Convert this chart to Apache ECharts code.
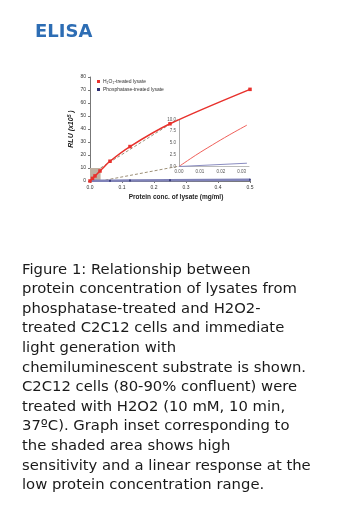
<!DOCTYPE html>
<html>
<head>
<meta charset="utf-8">
<script src="https://cdn.jsdelivr.net/npm/echarts@6/dist/echarts.min.js"></script>
<style>
html,body{margin:0;padding:0;background:#fff;}
#c{width:360px;height:530px;}
</style>
</head>
<body>
<div id="c"></div>
<script>
// ---- data ----
const h2o2X = [0, 0.0078, 0.0156, 0.03125, 0.0625, 0.125, 0.25, 0.5];
const h2o2Y = [0, 2.0, 3.9, 7.7, 15.2, 26.5, 44.0, 70.5];
const phosX = [0, 0.0156, 0.03125, 0.0625, 0.125, 0.25, 0.5];
const phosY = [0, 0.1, 0.15, 0.25, 0.4, 0.6, 0.9];
const phosMarkedX = [0.0625, 0.125, 0.25, 0.5];
const phosMarkedY = [0.25, 0.4, 0.6, 0.9];
// inset (zoom of shaded area)
const insetRedX = [0, 0.008, 0.016, 0.024, 0.0325];
const insetRedY = [0, 2.4, 4.6, 6.7, 8.8];
const insetBlueX = [0, 0.0325];
const insetBlueY = [0, 0.7];
// shaded region (main chart data units)
const shadeX = [0, 0.033];
const shadeY = [0, 10];
// connectors from shaded region to inset corners (main chart data units)
const connUpper = [[0.033, 10], [0.273, 47.3]];
const connLower = [[0.033, 0], [0.273, 11.2]];
const mainXTicks = ['0.0','0.1','0.2','0.3','0.4','0.5'];
const mainYTicks = ['0','10','20','30','40','50','60','70','80'];
const insetXTicks = ['0.00','0.01','0.02','0.03'];
const insetYTicks = ['0.0','2.5','5.0','7.5','10.0'];
const legendNames = ['H\u2082O\u2082-treated lysate', 'Phosphatase-treated lysate'];
const captionLines = [
  'Figure 1: Relationship between',
  'protein concentration of lysates from',
  'phosphatase-treated and H2O2-',
  'treated C2C12 cells and immediate',
  'light generation with',
  'chemiluminescent substrate is shown.',
  'C2C12 cells (80-90% confluent) were',
  'treated with H2O2 (10 mM, 10 min,',
  '37\u00BAC). Graph inset corresponding to',
  'the shaded area shows high',
  'sensitivity and a linear response at the',
  'low protein concentration range.'
];

const zip = (xs, ys) => xs.map((x, i) => [x, ys[i]]);
const RED = '#e8312c';
const BLUE = '#7f82b8';
const NAVY = '#2e2f70';
const DASH = '#9d9078';

const chart = echarts.init(document.getElementById('c'), null, {renderer: 'canvas'});
const smallLbl = {fontSize: 5, color: '#333', fontFamily: 'Liberation Sans'};
chart.setOption({
  animation: false,
  backgroundColor: '#ffffff',
  title: {
    text: 'ELISA', left: 35, top: 23, padding: 0,
    textStyle: {fontFamily: 'DejaVu Sans', fontWeight: 'bold', fontSize: 18, color: '#2d6db4'}
  },
  legend: {
    data: legendNames, orient: 'vertical', left: 97, top: 79, padding: 0,
    itemWidth: 3, itemHeight: 3, itemGap: 3, icon: 'rect',
    textStyle: {fontSize: 5, color: '#333', fontFamily: 'Liberation Sans', padding: [0, 0, 0, -2]}
  },
  grid: [
    {left: 90, top: 77, width: 160, height: 104},
    {left: 179, top: 119.5, width: 70, height: 47}
  ],
  xAxis: [
    {
      gridIndex: 0, type: 'value', min: 0, max: 0.5, interval: 0.1,
      name: 'Protein conc. of lysate (mg/ml)', nameLocation: 'middle', nameGap: 13,
      nameTextStyle: {fontSize: 6.5, fontWeight: 'bold', color: '#222', fontFamily: 'Liberation Sans', padding: [0, 0, 0, 12]},
      axisLine: {lineStyle: {color: '#777', width: 1}},
      axisTick: {length: 2, lineStyle: {color: '#777'}},
      axisLabel: Object.assign({margin: 4, formatter: v => mainXTicks[Math.round(v * 10)]}, smallLbl),
      splitLine: {show: false}
    },
    {
      gridIndex: 1, type: 'value', min: 0, max: 0.0335, interval: 0.01,
      axisLine: {lineStyle: {color: '#aaa', width: 0.8}},
      axisTick: {show: false},
      axisLabel: {fontSize: 4.5, color: '#555', margin: 3, showMaxLabel: false, fontFamily: 'Liberation Sans',
        formatter: v => insetXTicks[Math.round(v * 100)] || ''},
      splitLine: {show: false}
    }
  ],
  yAxis: [
    {
      gridIndex: 0, type: 'value', min: 0, max: 80, interval: 10,
      name: 'RLU (x10{sup|5} )', nameLocation: 'middle', nameGap: 14, nameRotate: 90,
      nameTextStyle: {fontSize: 7, fontWeight: 'bold', fontStyle: 'italic', color: '#222', fontFamily: 'Liberation Sans',
        rich: {sup: {fontSize: 5, fontWeight: 'bold', fontStyle: 'italic', verticalAlign: 'top', padding: [0, 0, 4, 0]}}},
      axisLine: {show: true, lineStyle: {color: '#777', width: 1}},
      axisTick: {show: true, length: 2, lineStyle: {color: '#777'}},
      axisLabel: Object.assign({margin: 4, formatter: v => mainYTicks[Math.round(v / 10)]}, smallLbl),
      splitLine: {show: false}
    },
    {
      gridIndex: 1, type: 'value', min: 0, max: 10, interval: 2.5,
      axisLine: {show: true, lineStyle: {color: '#999', width: 0.8}},
      axisTick: {show: false},
      axisLabel: {fontSize: 4.5, color: '#555', margin: 3, fontFamily: 'Liberation Sans',
        formatter: v => insetYTicks[Math.round(v / 2.5)]},
      splitLine: {show: false}
    }
  ],
  series: [
    {
      name: 'shade', type: 'line', xAxisIndex: 0, yAxisIndex: 0, data: [],
      markArea: {silent: true, itemStyle: {color: '#bfb1a1', opacity: 1},
        data: [[{xAxis: shadeX[0], yAxis: shadeY[0]}, {xAxis: shadeX[1], yAxis: shadeY[1]}]]}
    },
    {
      name: 'connUpper', type: 'line', xAxisIndex: 0, yAxisIndex: 0, data: connUpper,
      symbol: 'none', lineStyle: {color: DASH, width: 1, type: [3, 2]}, z: 3
    },
    {
      name: 'connLower', type: 'line', xAxisIndex: 0, yAxisIndex: 0, data: connLower,
      symbol: 'none', lineStyle: {color: DASH, width: 1, type: [3, 2]}, z: 3
    },
    {
      name: legendNames[1], type: 'line', xAxisIndex: 0, yAxisIndex: 0,
      data: zip(phosX, phosY), symbol: 'none',
      lineStyle: {color: BLUE, width: 2.5}, itemStyle: {color: NAVY}, z: 4
    },
    {
      name: 'phosPts', type: 'scatter', xAxisIndex: 0, yAxisIndex: 0,
      data: zip(phosMarkedX, phosMarkedY), symbol: 'rect', symbolSize: 2,
      itemStyle: {color: NAVY}, z: 5
    },
    {
      name: legendNames[0], type: 'line', xAxisIndex: 0, yAxisIndex: 0,
      data: zip(h2o2X, h2o2Y), smooth: 0.3, symbol: 'rect', symbolSize: 3.5,
      showAllSymbol: true,
      lineStyle: {color: RED, width: 1.5}, itemStyle: {color: RED}, z: 6
    },
    {
      name: 'insetRed', type: 'line', xAxisIndex: 1, yAxisIndex: 1,
      data: zip(insetRedX, insetRedY), smooth: 0.4, symbol: 'none',
      lineStyle: {color: '#f0605a', width: 1}, z: 6
    },
    {
      name: 'insetBlue', type: 'line', xAxisIndex: 1, yAxisIndex: 1,
      data: zip(insetBlueX, insetBlueY), symbol: 'none',
      lineStyle: {color: '#8a8cc0', width: 1}, z: 6
    }
  ],
  graphic: [{
    type: 'text', left: 22, top: 260,
    style: {
      text: captionLines.join('\n'),
      font: '14.8px "DejaVu Sans"', fill: '#1a1a1a', lineHeight: 19.6
    }
  }]
});
</script>
</body>
</html>
